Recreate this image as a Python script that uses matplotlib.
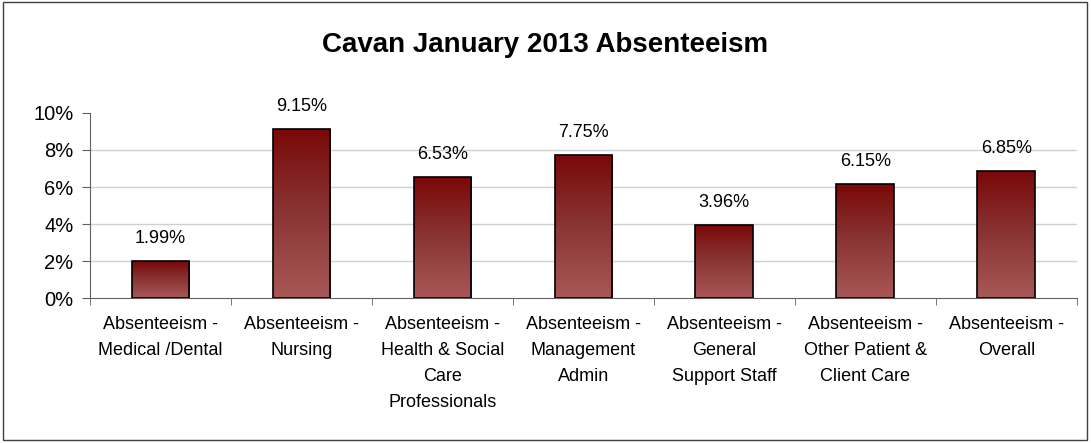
import matplotlib.pyplot as plt
import numpy as np
from matplotlib.colors import LinearSegmentedColormap
from matplotlib.patches import Rectangle

plt.rcParams['font.family'] = ['Liberation Sans', 'DejaVu Sans']

categories = ['Absenteeism -\nMedical /Dental', 'Absenteeism -\nNursing',
              'Absenteeism -\nHealth & Social\nCare\nProfessionals',
              'Absenteeism -\nManagement\nAdmin', 'Absenteeism -\nGeneral\nSupport Staff',
              'Absenteeism -\nOther Patient &\nClient Care', 'Absenteeism -\nOverall']
values = [1.99, 9.15, 6.53, 7.75, 3.96, 6.15, 6.85]
value_labels = ['1.99%', '9.15%', '6.53%', '7.75%', '3.96%', '6.15%', '6.85%']

fig = plt.figure(figsize=(10.91, 4.43), dpi=100)
fig.patches.append(Rectangle((0.003, 0.006), 0.993, 0.99, transform=fig.transFigure,
                             fill=False, edgecolor='#404040', linewidth=1))
ax = fig.add_axes([0.0825, 0.327, 0.9045, 0.418])

x = np.arange(len(values))
width = 0.41
grad = LinearSegmentedColormap.from_list('g', ['#a85757', '#8a3535', '#7a0808'])
bars = ax.bar(x, values, width=width, color='none', edgecolor='black', linewidth=1.2, zorder=3)
img = np.linspace(0, 1, 256).reshape(-1, 1)
for b in bars:
    x0, y0 = b.get_x(), b.get_y()
    im = ax.imshow(img, cmap=grad, origin='lower', aspect='auto',
                   extent=[x0, x0 + b.get_width(), y0, y0 + b.get_height()], zorder=2)
    im.set_clip_path(b)

for xi, v, lab in zip(x, values, value_labels):
    ax.text(xi, v + 0.75, lab, ha='center', va='bottom', fontsize=13)

ax.set_xlim(-0.5, len(values) - 0.5)
ax.set_ylim(0, 10)
ax.set_yticks([0, 2, 4, 6, 8, 10])
ax.set_yticklabels(['0%', '2%', '4%', '6%', '8%', '10%'], fontsize=14.5)
for yv in [2, 4, 6, 8]:
    ax.axhline(yv, color='#d0d0d0', linewidth=1, zorder=1)

ax.set_xticks(x)
ax.set_xticklabels(categories, fontsize=13, linespacing=1.7)
ax.tick_params(axis='x', length=0, pad=13)
ax.set_xticks(np.arange(-0.5, len(values)), minor=True)
ax.tick_params(axis='x', which='minor', length=5, color='#606060')
ax.tick_params(axis='y', length=6, color='#606060', pad=6)

for s in ['top', 'right']:
    ax.spines[s].set_visible(False)
ax.spines['left'].set_color('#606060')
ax.spines['bottom'].set_color('#606060')

fig.text(0.5, 0.898, 'Cavan January 2013 Absenteeism', ha='center', va='center',
         fontsize=20, fontweight='bold')

fig.savefig('out.png', dpi=100)
